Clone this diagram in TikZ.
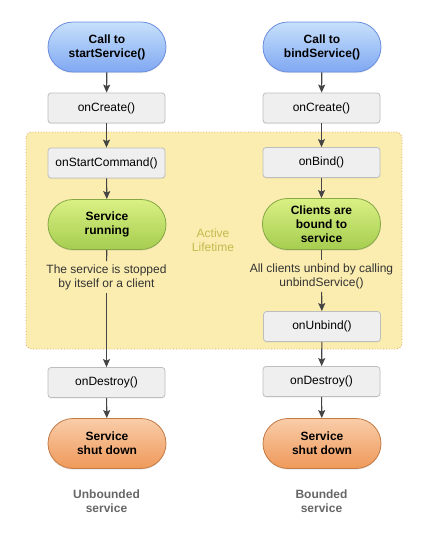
\documentclass[tikz,border=0pt]{standalone}
\usepackage{fontspec}
\setmainfont{Liberation Sans}
\usetikzlibrary{arrows.meta,shadows}
\definecolor{bluetop}{HTML}{C6E0FB}
\definecolor{bluebot}{HTML}{80A8F2}
\definecolor{blueln}{HTML}{6B8EDF}
\definecolor{greentop}{HTML}{DAF084}
\definecolor{greenbot}{HTML}{A5CD4F}
\definecolor{greenln}{HTML}{85A845}
\definecolor{orangetop}{HTML}{F9CDA9}
\definecolor{orangebot}{HTML}{EF995A}
\definecolor{orangeln}{HTML}{C47A45}
\definecolor{boxfill}{HTML}{EFEFEF}
\definecolor{boxln}{HTML}{BDBDBD}
\definecolor{areafill}{HTML}{FBEDB0}
\definecolor{arealn}{HTML}{D9A05A}
\definecolor{activetxt}{HTML}{C4B94E}
\definecolor{linkc}{HTML}{444444}
\definecolor{bodytxt}{HTML}{333333}
\definecolor{captxt}{HTML}{666666}
\tikzset{
  x=1pt, y=-1pt,
  basefont/.style={font=\fontsize{12}{14}\selectfont},
  pill/.style={basefont, font=\fontsize{12}{14}\selectfont\bfseries, align=center,
    rounded corners=25pt, minimum width=118pt, minimum height=50pt, inner sep=0pt,
    line width=0.8pt, drop shadow={opacity=0.18, shadow xshift=0pt, shadow yshift=-1.2pt}},
  startpill/.style={pill, draw=blueln, top color=bluetop, bottom color=bluebot},
  runpill/.style={pill, draw=greenln, top color=greentop, bottom color=greenbot},
  endpill/.style={pill, draw=orangeln, top color=orangetop, bottom color=orangebot},
  callbox/.style={basefont, rounded corners=3pt, draw=boxln, fill=boxfill,
    minimum width=117pt, minimum height=30pt, inner sep=0pt, line width=0.8pt,
    drop shadow={opacity=0.12, shadow xshift=0pt, shadow yshift=-1pt}},
  note/.style={basefont, text=bodytxt, align=center, inner sep=3pt},
  caption/.style={font=\fontsize{12}{14}\selectfont\bfseries, text=captxt, align=center},
  link/.style={draw=linkc, line width=1.1pt, -{Stealth[length=8pt,width=7pt,inset=1.5pt]}},
  plainlink/.style={draw=linkc, line width=1.1pt},
}
\begin{document}
\begin{tikzpicture}
\useasboundingbox (0,0) rectangle (437,542);
% active lifetime area
\draw[fill=areafill, draw=arealn, dotted, line width=0.8pt, rounded corners=6pt] (26,132) rectangle (402,349);
\node[basefont, text=activetxt, align=center] (active) at (213,240) {Active\\Lifetime};

% left column
\node[startpill] (s1) at (107,47) {Call to\\startService()};
\node[callbox] (c1) at (106.5,108) {onCreate()};
\node[callbox] (sc) at (106.5,163) {onStartCommand()};
\node[runpill] (run) at (107,224.5) {Service\\running};
\node[note] (t1) at (106.5,277) {The service is stopped\\by itself or a client};
\node[callbox] (d1) at (106.5,382.5) {onDestroy()};
\node[endpill] (e1) at (107,443.5) {Service\\shut down};
\node[caption] (cap1) at (106.5,501.5) {Unbounded\\service};

% right column
\node[startpill] (s2) at (322,47) {Call to\\bindService()};
\node[callbox] (c2) at (321.5,108) {onCreate()};
\node[callbox] (b2) at (321.5,162.5) {onBind()};
\node[runpill, minimum height=51pt] (bound) at (321.5,224) {Clients are\\bound to\\service};
\node[note] (t2) at (321.5,276) {All clients unbind by calling\\unbindService()};
\node[callbox] (u2) at (322,326.5) {onUnbind()};
\node[callbox] (d2) at (321.5,381.5) {onDestroy()};
\node[endpill] (e2) at (322,443.5) {Service\\shut down};
\node[caption] (cap2) at (321.5,501.5) {Bounded\\service};

% connectors left
\draw[link] (s1) -- (c1);
\draw[link] (c1) -- (sc);
\draw[link] (sc) -- (run);
\draw[plainlink] (run) -- (t1);
\draw[link] (t1) -- (d1);
\draw[link] (d1) -- (e1);

% connectors right
\draw[link] (s2) -- (c2);
\draw[link] (c2) -- (b2);
\draw[link] (b2) -- (bound);
\draw[plainlink] (bound) -- (t2);
\draw[link] (t2) -- (u2);
\draw[link] (u2) -- (d2);
\draw[link] (d2) -- (e2);
\end{tikzpicture}
\end{document}
